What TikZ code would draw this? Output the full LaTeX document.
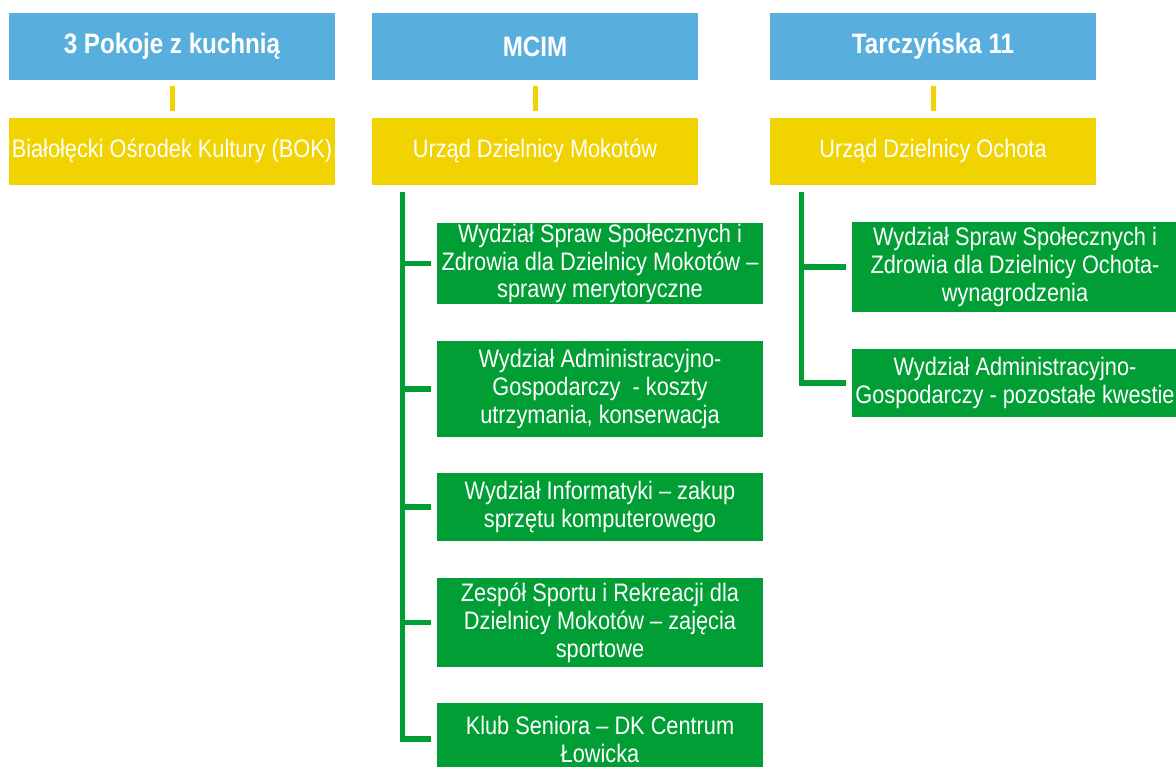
\documentclass[tikz,border=0pt]{standalone}
\usepackage{fontspec}
\setmainfont{Liberation Sans}[FakeStretch=0.86]
\usetikzlibrary{positioning, calc}
\definecolor{headblue}{RGB}{88,175,221}
\definecolor{officeyellow}{RGB}{240,211,0}
\definecolor{deptgreen}{RGB}{0,158,52}

\begin{document}
\begin{tikzpicture}[x=0.02cm, y=-0.02cm,
    box/.style={rectangle, inner sep=0pt, minimum width=6.52cm, align=center, text=white},
    head/.style={box, fill=headblue, minimum height=1.34cm, font=\fontsize{16}{18}\selectfont\bfseries},
    office/.style={box, fill=officeyellow, minimum height=1.34cm, font=\fontsize{14.4}{16}\selectfont},
    dept/.style={box, fill=deptgreen, font=\fontsize{14.4}{15.9}\selectfont},
    yline/.style={officeyellow, line width=0.1cm, shorten <=0.12cm, shorten >=0.12cm},
    gline/.style={deptgreen, line width=0.11cm, shorten >=0.12cm}
]
    \useasboundingbox (0,0) rectangle (1176,767);

    % nagłówki
    \node[head] (h1) at (172,46.5) {3 Pokoje z kuchnią};
    \node[head] (h2) at (535,46.5) {MCIM};
    \node[head] (h3) at (933,46.5) {Tarczyńska 11};

    % urzędy
    \node[office, below=0.74cm of h1] (o1) {Białołęcki Ośrodek Kultury (BOK)};
    \node[office, below=0.74cm of h2] (o2) {Urząd Dzielnicy Mokotów};
    \node[office, below=0.74cm of h3] (o3) {Urząd Dzielnicy Ochota};
    \draw[yline] (h1) -- (o1);
    \draw[yline] (h2) -- (o2);
    \draw[yline] (h3) -- (o3);

    % Mokotów
    \node[dept, minimum height=1.62cm] (m1) at (600,263.5) {Wydział Spraw Społecznych i\\Zdrowia dla Dzielnicy Mokotów –\\sprawy merytoryczne};
    \node[dept, minimum height=1.92cm] (m2) at (600,389) {Wydział Administracyjno-\\Gospodarczy~ - koszty\\utrzymania, konserwacja};
    \node[dept, minimum height=1.36cm] (m3) at (600,507) {Wydział Informatyki – zakup\\sprzętu komputerowego};
    \node[dept, minimum height=1.78cm] (m4) at (600,622.5) {Zespół Sportu i Rekreacji dla\\Dzielnicy Mokotów – zajęcia\\sportowe};
    \node[dept, minimum height=1.44cm] (m5) at (600,739) {Klub Seniora – DK Centrum\\Łowicka};
    \coordinate (mtop) at ($(o2.south west)+(31,7)$);
    \foreach \d in {m1,m2,m3,m4,m5}
        \draw[gline] (mtop) |- (\d.west);

    % Ochota
    \node[dept, minimum height=1.8cm] (c1) at (1015,267) {Wydział Spraw Społecznych i\\Zdrowia dla Dzielnicy Ochota-\\wynagrodzenia};
    \node[dept, minimum height=1.36cm] (c2) at (1015,383) {Wydział Administracyjno-\\Gospodarczy - pozostałe kwestie};
    \coordinate (ctop) at ($(o3.south west)+(32,7)$);
    \foreach \d in {c1,c2}
        \draw[gline] (ctop) |- (\d.west);
\end{tikzpicture}
\end{document}
